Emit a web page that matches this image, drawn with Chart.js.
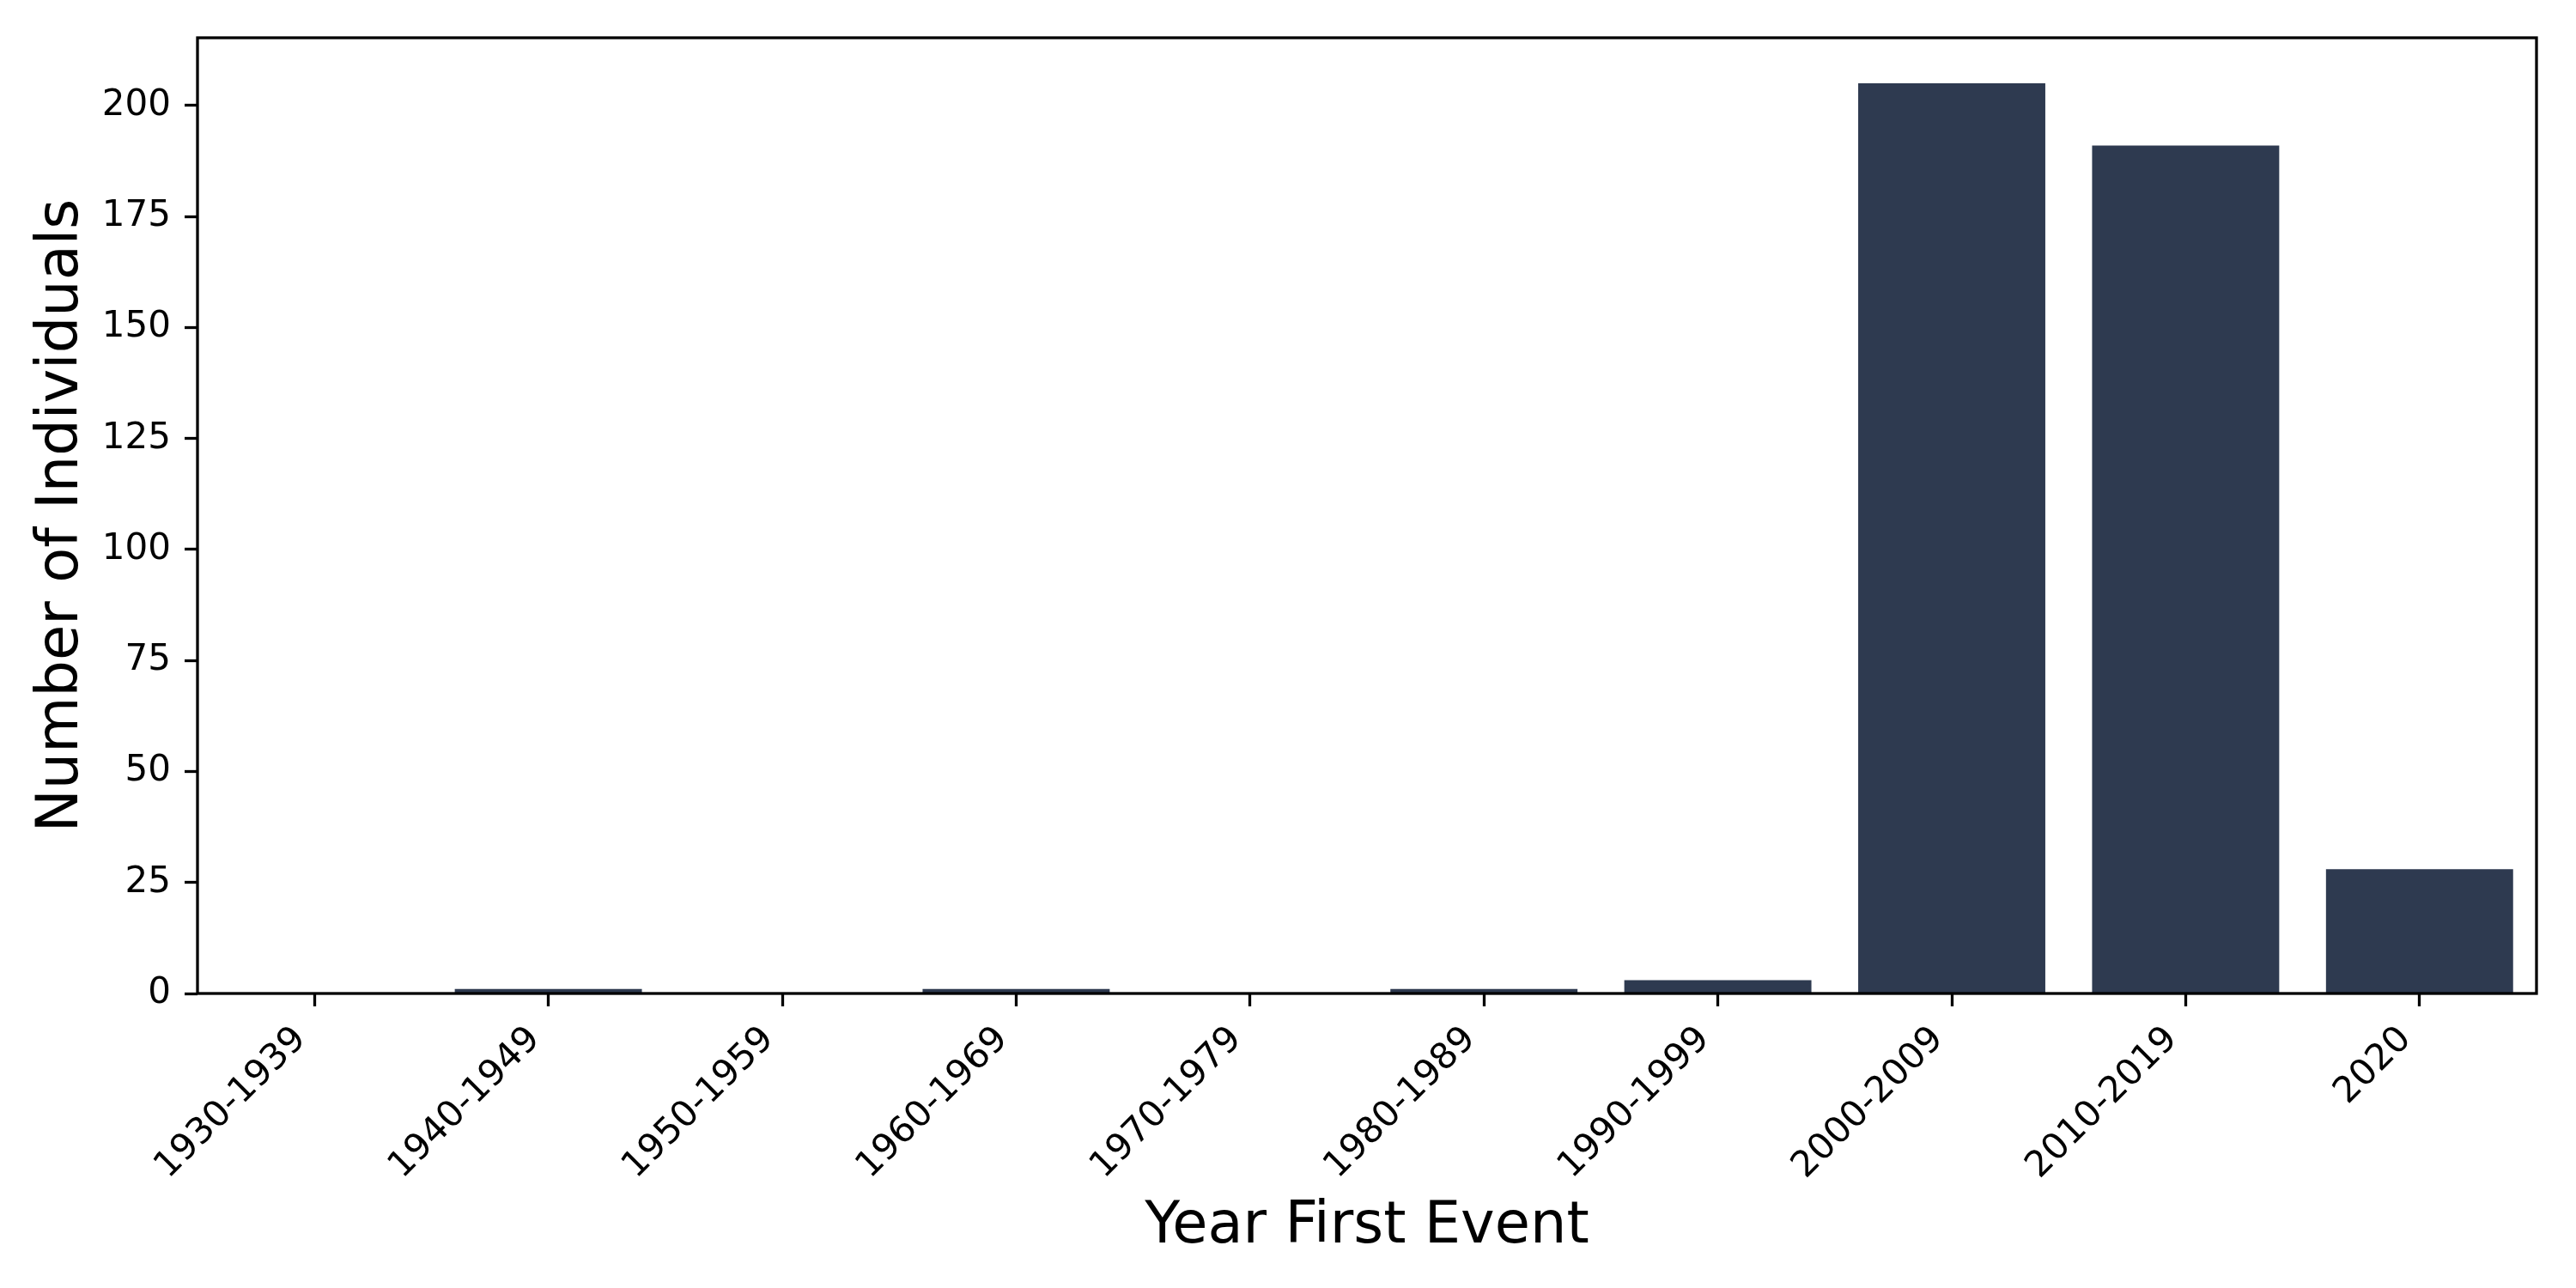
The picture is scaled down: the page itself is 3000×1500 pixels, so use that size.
<!DOCTYPE html>
<html>
<head>
<meta charset="utf-8">
<script src="https://cdn.jsdelivr.net/npm/chart.js@4"></script>
<style>
  html, body { margin: 0; padding: 0; background: #fff; }
  #firstEventChart { display: block; }
</style>
</head>
<body>
<canvas id="firstEventChart" width="3000" height="1500"></canvas>
<script>
const decades = ['1930-1939', '1940-1949', '1950-1959', '1960-1969', '1970-1979',
                 '1980-1989', '1990-1999', '2000-2009', '2010-2019', '2020'];
const individuals = [0, 1, 0, 1, 0, 1, 3, 205, 191, 28];
const yTicks = [0, 25, 50, 75, 100, 125, 150, 175, 200];

const barColor = 'rgb(46, 58, 80)';

// box around the plot area, like matplotlib spines
const framePlugin = {
    id: 'frame',
    afterDatasetsDraw(chart) {
        const a = chart.chartArea;
        const ctx = chart.ctx;
        ctx.save();
        ctx.strokeStyle = '#000';
        ctx.lineWidth = 3.3;
        ctx.strokeRect(a.left, a.top, a.right - a.left, a.bottom - a.top);
        ctx.restore();
    }
};

const firstEventData = {
    labels: decades,
    datasets: [{
        label: 'Number of Individuals',
        backgroundColor: barColor,
        borderWidth: 0,
        data: individuals,
        barPercentage: 0.8,
        categoryPercentage: 1.0,
    }]
};

const firstEventConfig = {
    type: 'bar',
    data: firstEventData,
    plugins: [framePlugin],
    options: {
        responsive: false,
        devicePixelRatio: 1,
        animation: false,
        layout: {
            padding: { top: 44, right: 46, left: 0, bottom: 0 }
        },
        plugins: {
            legend: { display: false },
            tooltip: { enabled: false },
        },
        scales: {
            x: {
                offset: true,
                border: { display: false },
                grid: {
                    offset: false,
                    drawOnChartArea: false,
                    drawTicks: true,
                    tickLength: 15,
                    tickWidth: 3.3,
                    tickColor: '#000',
                },
                ticks: {
                    color: '#000',
                    font: { family: 'DejaVu Sans', size: 42 },
                    minRotation: 45,
                    maxRotation: 45,
                    autoSkip: false,
                    padding: 14,
                    labelOffset: -16,
                },
                title: {
                    display: true,
                    text: 'Year First Event',
                    color: '#000',
                    font: { family: 'DejaVu Sans', size: 67, lineHeight: 1.2 },
                    padding: { top: 0, bottom: 30 },
                },
                afterFit: (scale) => { scale.height = 343; },
            },
            y: {
                min: 0,
                max: 215.25,
                border: { display: false },
                grid: {
                    drawOnChartArea: false,
                    drawTicks: true,
                    tickLength: 15,
                    tickWidth: 3.3,
                    tickColor: '#000',
                },
                ticks: {
                    color: '#000',
                    font: { family: 'DejaVu Sans', size: 42 },
                    stepSize: 25,
                    padding: 16,
                },
                afterBuildTicks: (scale) => {
                    scale.ticks = yTicks.map(v => ({ value: v }));
                },
                title: {
                    display: true,
                    text: 'Number of Individuals',
                    color: '#000',
                    font: { family: 'DejaVu Sans', size: 67, lineHeight: 1.2 },
                    padding: { top: 32, bottom: 0 },
                },
                afterFit: (scale) => { scale.width = 230; },
            }
        }
    }
};

const firstEventChart = new Chart(
    document.getElementById('firstEventChart'),
    firstEventConfig
);
</script>
</body>
</html>
